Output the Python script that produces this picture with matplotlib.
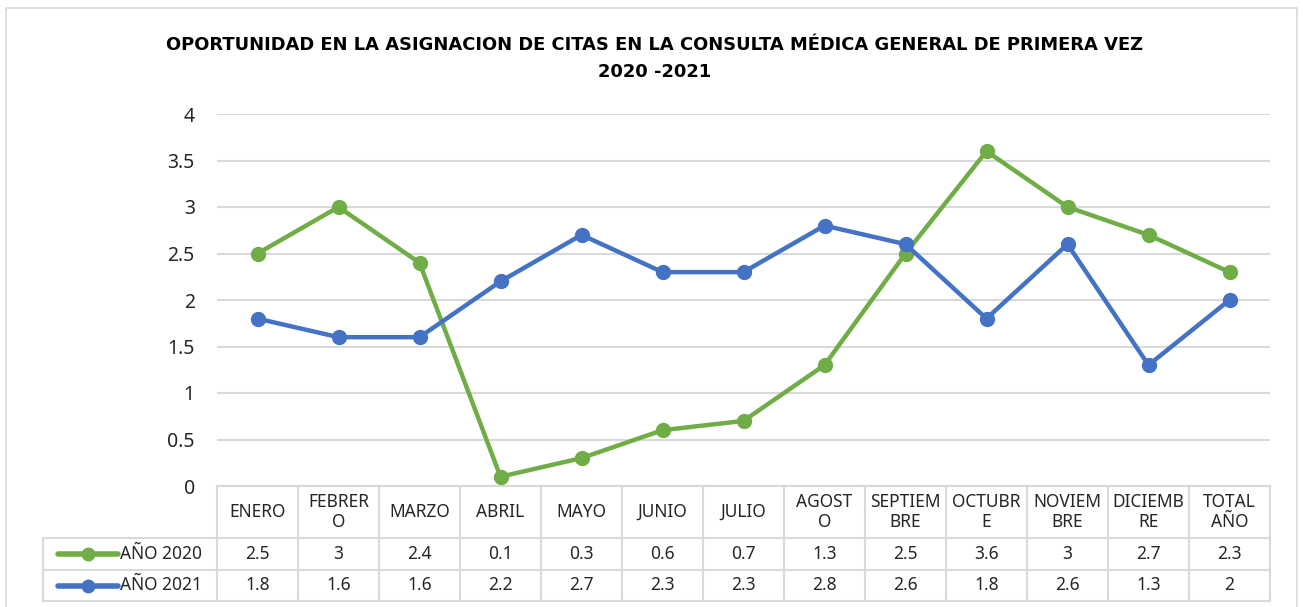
import matplotlib.pyplot as plt
import matplotlib.patches as mpatches
from matplotlib.lines import Line2D

meses = ["ENERO", "FEBRER\nO", "MARZO", "ABRIL", "MAYO", "JUNIO", "JULIO",
         "AGOST\nO", "SEPTIEM\nBRE", "OCTUBR\nE", "NOVIEM\nBRE", "DICIEMB\nRE", "TOTAL\nAÑO"]
anio_2020 = [2.5, 3, 2.4, 0.1, 0.3, 0.6, 0.7, 1.3, 2.5, 3.6, 3, 2.7, 2.3]
anio_2021 = [1.8, 1.6, 1.6, 2.2, 2.7, 2.3, 2.3, 2.8, 2.6, 1.8, 2.6, 1.3, 2]
series = [("AÑO 2020", anio_2020, "#70AD47"), ("AÑO 2021", anio_2021, "#4472C4")]

plt.rcParams['font.family'] = ['Noto Sans', 'DejaVu Sans']
W, H = 1303, 607
fig = plt.figure(figsize=(W / 100, H / 100), dpi=100)

# chart border
fig.patches.append(mpatches.Rectangle((6 / W, -0.05), 1291 / W, 1 - 8 / H + 0.05,
                                      transform=fig.transFigure, fill=False,
                                      edgecolor="#D9D9D9", linewidth=1.2))

ax = fig.add_axes([217 / W, 1 - 486 / H, 1053 / W, 372 / H])
n = len(meses)
x = list(range(n))
ax.set_xlim(-0.5, n - 0.5)
ax.set_ylim(0, 4)
ax.set_yticks([0, 0.5, 1, 1.5, 2, 2.5, 3, 3.5, 4])
ax.set_yticklabels(["0", "0.5", "1", "1.5", "2", "2.5", "3", "3.5", "4"])
ax.tick_params(axis="y", length=0, pad=16, labelsize=14, labelcolor="#262626")
ax.set_xticks([])
ax.grid(axis="y", color="#D9D9D9", linewidth=1.5)
ax.set_axisbelow(True)
for s in ax.spines.values():
    s.set_visible(False)

for name, vals, col in series:
    ax.plot(x, vals, color=col, linewidth=3.2, marker="o", markersize=10,
            solid_capstyle="round", zorder=3)

# data table under the axis
upp = 372 / 4.0  # pixels per unit
y_top = 0
y_h = -52 / upp
y_r1 = -84 / upp
y_r2 = -115 / upp
x_left = -0.5 - 174 / 81.0
gc = "#D9D9D9"
lw = 1.5
kw = dict(color=gc, linewidth=lw, clip_on=False, zorder=1)
ax.plot([-0.5, n - 0.5], [y_top, y_top], **kw)
for yy in (y_h, y_r1, y_r2):
    ax.plot([x_left, n - 0.5], [yy, yy], **kw)
for i in range(n + 1):
    ax.plot([i - 0.5, i - 0.5], [y_top, y_r2], **kw)
ax.plot([x_left, x_left], [y_h, y_r2], **kw)

tc = "#262626"
fs = 12.5
for i, m in enumerate(meses):
    ax.text(i, y_h / 2, m, ha="center", va="center", fontsize=fs, color=tc,
            linespacing=1.2, clip_on=False)
rows = [(y_h + y_r1) / 2, (y_r1 + y_r2) / 2]
for (name, vals, col), yy in zip(series, rows):
    for i, v in enumerate(vals):
        ax.text(i, yy, f"{v:g}", ha="center", va="center", fontsize=fs,
                color=tc, clip_on=False)
    ax.add_line(Line2D([x_left + 15 / 81, x_left + 75 / 81], [yy, yy], color=col,
                       linewidth=4, solid_capstyle="round", clip_on=False))
    ax.plot([x_left + 45 / 81], [yy], marker="o", color=col, markersize=9, clip_on=False)
    ax.text(x_left + 77 / 81, yy, name, ha="left", va="center", fontsize=fs,
            color=tc, clip_on=False)

fig.text(655 / W, 1 - 45 / H, "OPORTUNIDAD EN LA ASIGNACION DE CITAS EN LA CONSULTA MÉDICA GENERAL DE PRIMERA VEZ",
         ha="center", va="center", fontsize=12.9, fontweight="bold", color="#000000",
         family="DejaVu Sans")
fig.text(655 / W, 1 - 72 / H, "2020 -2021", ha="center", va="center",
         fontsize=12.9, fontweight="bold", color="#000000", family="DejaVu Sans")

fig.savefig("out.png", dpi=100)
